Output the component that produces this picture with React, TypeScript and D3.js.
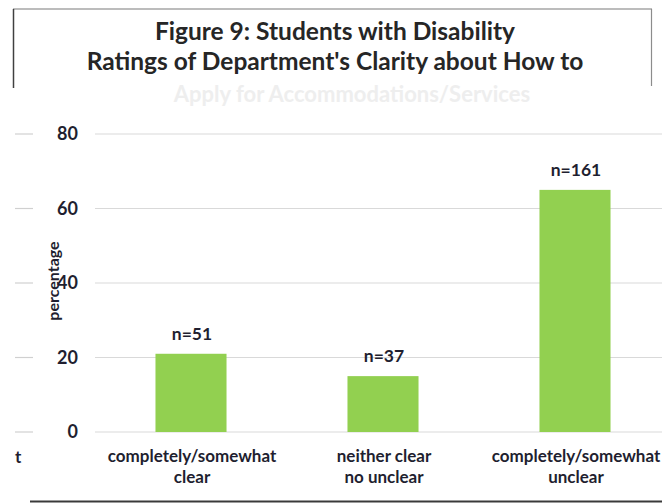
import * as d3 from "d3";

const categories = ["completely/somewhat clear", "neither clear no unclear", "completely/somewhat unclear"];
const categoryLines = [
  ["completely/somewhat", "clear"],
  ["neither clear", "no unclear"],
  ["completely/somewhat", "unclear"],
];
const percentages = [21, 15, 65];
const counts = ["n=51", "n=37", "n=161"];
const yTicks = [0, 20, 40, 60, 80];
const titleLines = ["Figure 9: Students with Disability", "Ratings of Department's Clarity about How to"];
const titleFaded = "Apply for Accommodations/Services";

const W = 662;
const H = 503;
const FONT = "Lato, 'Open Sans', sans-serif";
const INK = "#1f1f30";

export default function App() {
  // plot area runs past the right edge, as in the cropped original
  const x = d3
    .scaleBand<string>()
    .domain(categories)
    .range([95, 671])
    .paddingInner(0.63)
    .paddingOuter(0.315);
  const y = d3.scaleLinear().domain([0, 80]).range([432, 134]);

  return (
    <svg
      width={W}
      height={H}
      viewBox={`0 0 ${W} ${H}`}
      style={{ position: "absolute", left: 0, top: 0, background: "#fff" }}
      fontFamily={FONT}
    >
      <rect width={W} height={H} fill="#fff" />

      {/* title frame (partially) */}
      <line x1={13} x2={652} y1={9} y2={9} stroke="#a6a6a6" strokeWidth={1.5} />
      <line x1={13.5} x2={13.5} y1={9} y2={88} stroke="#404040" strokeWidth={1.5} />
      <line x1={651.5} x2={651.5} y1={9} y2={86} stroke="#8c8c8c" strokeWidth={1.2} />

      {titleLines.map((t, i) => (
        <text
          key={t}
          x={335}
          y={40 + i * 30}
          textAnchor="middle"
          fontSize={24.5}
          fontWeight={700}
          fill="#262626"
        >
          {t}
        </text>
      ))}
      <text x={352} y={102} textAnchor="middle" fontSize={22} fontWeight={700} fill="#eeeeee">
        {titleFaded}
      </text>

      {/* gridlines */}
      {yTicks.map((t) => (
        <g key={t}>
          <line x1={95} x2={W} y1={y(t)} y2={y(t)} stroke="#d9d9d9" strokeWidth={1.2} />
          <line x1={15} x2={33} y1={y(t)} y2={y(t)} stroke="#d0d0d0" strokeWidth={1.2} />
          <text
            x={78}
            y={y(t)}
            dy="0.36em"
            textAnchor="end"
            fontSize={18}
            fontWeight={700}
            fill={INK}
          >
            {t}
          </text>
        </g>
      ))}

      <text
        transform="translate(53,281) rotate(-90)"
        textAnchor="middle"
        dy="0.35em"
        fontSize={16}
        fontWeight={700}
        fill={INK}
      >
        percentage
      </text>

      {/* bars */}
      {categories.map((c, i) => (
        <g key={c}>
          <rect
            x={x(c)!}
            y={y(percentages[i])}
            width={x.bandwidth()}
            height={y(0) - y(percentages[i])}
            fill="#92d050"
          />
          <text
            x={x(c)! + x.bandwidth() / 2 + 1}
            y={y(percentages[i]) - 14}
            textAnchor="middle"
            fontSize={17.5}
            fontWeight={700}
            fill={INK}
          >
            {counts[i]}
          </text>
          {categoryLines[i].map((line, j) => (
            <text
              key={line}
              x={x(c)! + x.bandwidth() / 2 + 1}
              y={462 + j * 21}
              textAnchor="middle"
              fontSize={17}
              fontWeight={700}
              fill={INK}
            >
              {line}
            </text>
          ))}
        </g>
      ))}

      {/* remnant of a clipped label on the left */}
      <text x={15} y={463} fontSize={17} fontWeight={700} fill={INK}>
        t
      </text>

      <line x1={30} x2={W} y1={501.5} y2={501.5} stroke="#3a3a3a" strokeWidth={2} />
    </svg>
  );
}
